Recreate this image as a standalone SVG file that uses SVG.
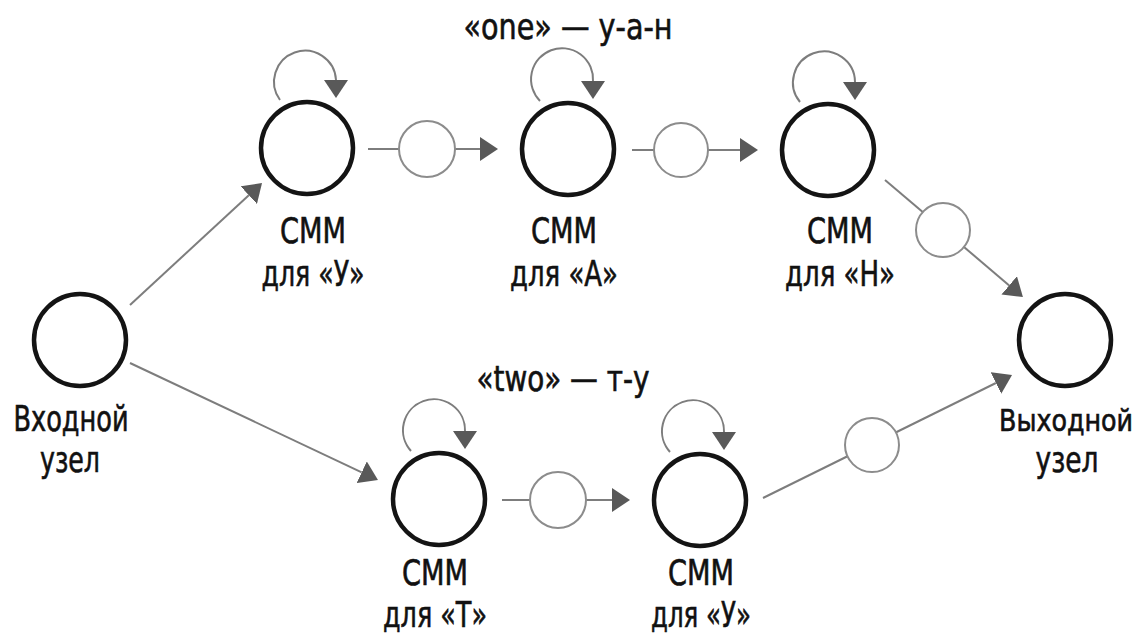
<svg xmlns="http://www.w3.org/2000/svg" width="1145" height="634" viewBox="0 0 1145 634">
<style>
.big{fill:#fff;stroke:#141414;stroke-width:4.5}
.small{fill:#fff;stroke:#8c8c8c;stroke-width:2}
.ln{fill:none;stroke:#7d7d7d;stroke-width:2}
.loop{fill:none;stroke:#7d7d7d;stroke-width:2}
text{font-family:"Liberation Sans Narrow","DejaVu Sans Condensed","Liberation Sans",sans-serif;font-size:36px;fill:#111;stroke:#111;stroke-width:0.6;text-anchor:middle}
.sm{font-size:30px}
</style>
<defs>
<marker id="ah" markerUnits="userSpaceOnUse" viewBox="0 0 18 24" refX="0" refY="12" markerWidth="18" markerHeight="24" orient="auto">
<path d="M0,0 L18,12 L0,24 z" fill="#595959"/>
</marker>
<marker id="ahd" markerUnits="userSpaceOnUse" viewBox="0 0 18 24" refX="0" refY="12" markerWidth="18" markerHeight="24" orient="90">
<path d="M0,0 L18,12 L0,24 z" fill="#595959"/>
</marker>
</defs>
<rect width="1145" height="634" fill="#fff"/>
<g id="connectors">
<path class="ln" d="M130,305 L248.8,195.2" marker-end="url(#ah)"/>
<path class="ln" d="M130,363 L361.7,472.3" marker-end="url(#ah)"/>
<path class="ln" d="M368,149 L480,149" marker-end="url(#ah)"/>
<path class="ln" d="M632,150 L740,150" marker-end="url(#ah)"/>
<path class="ln" d="M885,180 L1009.2,285.4" marker-end="url(#ah)"/>
<path class="ln" d="M502,500 L612,500" marker-end="url(#ah)"/>
<path class="ln" d="M763,498 L995.9,383" marker-end="url(#ah)"/>
<circle class="small" cx="427" cy="149" r="28"/>
<circle class="small" cx="681" cy="150" r="27"/>
<circle class="small" cx="943" cy="230" r="27"/>
<circle class="small" cx="558" cy="500" r="28"/>
<circle class="small" cx="872" cy="445" r="27"/>
<path class="loop" d="M280,100 A31,31 0 1 1 336,80" marker-end="url(#ahd)"/>
<path class="loop" d="M540,101 A31,31 0 1 1 593,81" marker-end="url(#ahd)"/>
<path class="loop" d="M800,102 A31,31 0 1 1 855,82" marker-end="url(#ahd)"/>
<path class="loop" d="M411,451 A31,31 0 1 1 465,431" marker-end="url(#ahd)"/>
<path class="loop" d="M670,452 A31,31 0 1 1 724,432" marker-end="url(#ahd)"/>
</g>
<g id="node-in">
<circle class="big" cx="80" cy="340" r="46"/>
<text x="71" y="431" textLength="115" lengthAdjust="spacingAndGlyphs">Входной</text>
<text x="70" y="472" textLength="60" lengthAdjust="spacingAndGlyphs">узел</text>
</g>
<g id="node-y1">
<circle class="big" cx="307" cy="148" r="46"/>
<text x="313" y="243" textLength="66" lengthAdjust="spacingAndGlyphs">СММ</text>
<text x="313" y="286" textLength="103" lengthAdjust="spacingAndGlyphs">для «У»</text>
</g>
<g id="node-a">
<circle class="big" cx="568" cy="149" r="46"/>
<text x="564" y="243" textLength="66" lengthAdjust="spacingAndGlyphs">СММ</text>
<text x="564" y="286" textLength="108" lengthAdjust="spacingAndGlyphs">для «А»</text>
</g>
<g id="node-h">
<circle class="big" cx="828" cy="150" r="46"/>
<text x="840" y="243" textLength="66" lengthAdjust="spacingAndGlyphs">СММ</text>
<text x="840" y="286" textLength="110" lengthAdjust="spacingAndGlyphs">для «Н»</text>
</g>
<g id="node-out">
<circle class="big" cx="1065" cy="340" r="46"/>
<text class="sm" x="1066" y="431" textLength="134" lengthAdjust="spacingAndGlyphs">Выходной</text>
<text x="1067" y="472" textLength="63" lengthAdjust="spacingAndGlyphs">узел</text>
</g>
<g id="node-t">
<circle class="big" cx="439" cy="499" r="46"/>
<text x="435" y="585" textLength="66" lengthAdjust="spacingAndGlyphs">СММ</text>
<text x="435" y="627" textLength="104" lengthAdjust="spacingAndGlyphs">для «Т»</text>
</g>
<g id="node-y2">
<circle class="big" cx="700" cy="500" r="46"/>
<text x="701" y="585" textLength="66" lengthAdjust="spacingAndGlyphs">СММ</text>
<text x="701" y="627" textLength="100" lengthAdjust="spacingAndGlyphs">для «У»</text>
</g>
<g id="labels">
<text x="568" y="39" textLength="209" lengthAdjust="spacingAndGlyphs">«one» — у-а-н</text>
<text x="563" y="391" textLength="173" lengthAdjust="spacingAndGlyphs">«two» — т-у</text>
</g>
</svg>
